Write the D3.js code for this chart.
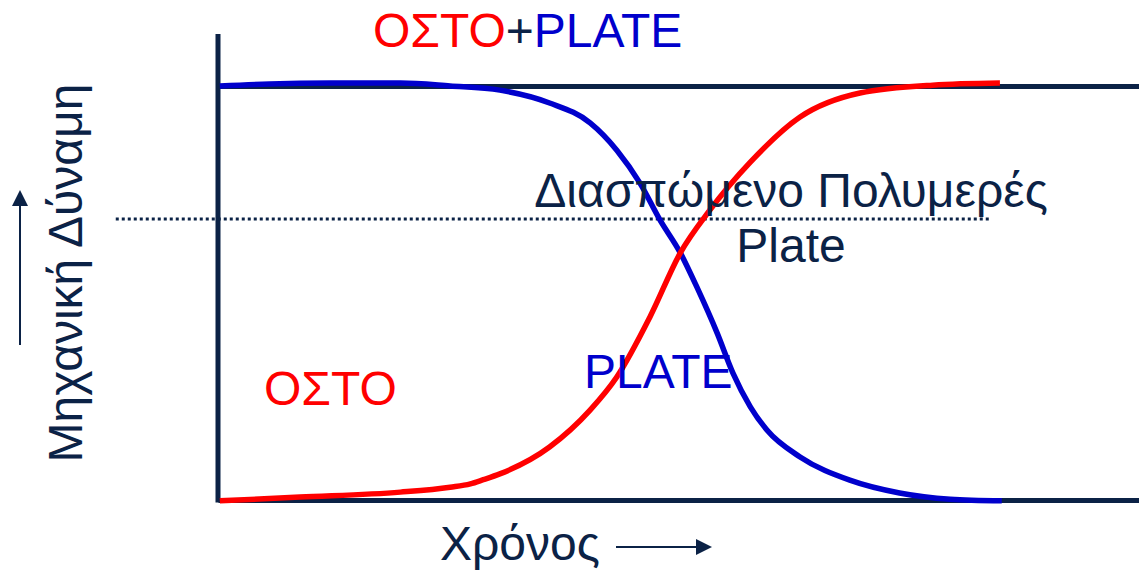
<!DOCTYPE html>
<html>
<head>
<meta charset="utf-8">
<script src="https://cdn.jsdelivr.net/npm/d3@7"></script>
<style>
  body { margin: 0; background: #fff; }
  text { font-family: "Liberation Sans", Arial, sans-serif; }
</style>
</head>
<body>
<div id="chart"></div>
<script>
// time (0-100) and mechanical strength (0-100)
var plateTime  = [0.2, 5.6, 12.2, 19.8, 25.2, 30.6, 36.0, 40.4, 43.3, 45.8, 48.0, 50.2, 52.0, 54.2, 55.9, 57.8, 59.6, 63.2, 68.6, 74.0, 79.5, 85.1];
var plateForce = [100, 100.5, 100.7, 100.7, 100, 99.0, 95.9, 91.1, 84.5, 76.6, 67.6, 59.7, 51.4, 40.3, 30.7, 22.5, 16.9, 10.4, 4.8, 1.7, 0.2, -0.2];

var boneTime  = [0.2, 8.9, 19.8, 25.2, 27.4, 28.8, 30.6, 36.0, 40.4, 43.3, 46.9, 50.2, 53.4, 57.8, 63.2, 69.7, 77.6, 84.9];
var boneForce = [-0.2, 0.7, 1.9, 3.1, 3.9, 4.9, 6.3, 12.8, 21.7, 29.7, 44.2, 59.7, 70.0, 81.6, 92.5, 98.3, 100.2, 100.7];

var polymerLevel = 67.9;          // dotted line
var polymerRange = [-11.1, 84.0];

var navy = "#0b2246", red = "#ff0000", blue = "#0000cc";

var width = 1139, height = 571;

var svg = d3.select("#chart").append("svg")
    .attr("width", width)
    .attr("height", height);

// Scales
var x = d3.scaleLinear().domain([0, 100]).range([218, 1139]);
var y = d3.scaleLinear().domain([0, 100]).range([500, 86]);

// Axes (frame)
var xAxis = d3.axisBottom(x).tickValues([]).tickSizeOuter(0);
var topAxis = d3.axisTop(x).tickValues([]).tickSizeOuter(0);

svg.append("g")
    .attr("transform", "translate(0," + y(0) + ")")
    .call(xAxis)
    .select(".domain").attr("stroke", navy).attr("stroke-width", 5);

svg.append("g")
    .attr("transform", "translate(0," + y(100) + ")")
    .call(topAxis)
    .select(".domain").attr("stroke", navy).attr("stroke-width", 5);

svg.append("line")
    .attr("x1", x(0)).attr("x2", x(0))
    .attr("y1", 34).attr("y2", y(0) + 2.5)
    .attr("stroke", navy).attr("stroke-width", 5);

// Dotted polymer line
svg.append("line")
    .attr("x1", x(polymerRange[0])).attr("x2", x(polymerRange[1]))
    .attr("y1", y(polymerLevel)).attr("y2", y(polymerLevel))
    .attr("stroke", navy).attr("stroke-width", 3)
    .attr("stroke-dasharray", "3,3");

// Curves
var line = d3.line()
    .x(function(d){ return x(d[0]); })
    .y(function(d){ return y(d[1]); })
    .curve(d3.curveMonotoneX);

svg.append("path")
    .datum(d3.zip(plateTime, plateForce))
    .attr("d", line)
    .attr("fill", "none")
    .attr("stroke", blue)
    .attr("stroke-width", 5.5);

svg.append("path")
    .datum(d3.zip(boneTime, boneForce))
    .attr("d", line)
    .attr("fill", "none")
    .attr("stroke", red)
    .attr("stroke-width", 5.5);

// Title
var title = svg.append("text")
    .attr("x", 373).attr("y", 47)
    .style("font-size", "48px");
title.append("tspan").attr("fill", red).text("ΟΣΤΟ");
title.append("tspan").attr("fill", navy).text("+");
title.append("tspan").attr("fill", blue).text("PLATE");

// Labels in plot
svg.append("text")
    .attr("x", 791).attr("y", 207)
    .attr("text-anchor", "middle")
    .attr("fill", navy)
    .style("font-size", "48px")
    .text("Διασπώμενο Πολυμερές");

svg.append("text")
    .attr("x", 791).attr("y", 262)
    .attr("text-anchor", "middle")
    .attr("fill", navy)
    .style("font-size", "48px")
    .text("Plate");

svg.append("text")
    .attr("x", 584).attr("y", 388)
    .attr("fill", blue)
    .style("font-size", "48px")
    .text("PLATE");

svg.append("text")
    .attr("x", 264).attr("y", 405)
    .attr("fill", red)
    .style("font-size", "48px")
    .text("ΟΣΤΟ");

// Axis titles
svg.append("text")
    .attr("transform", "translate(82,273) rotate(-90)")
    .attr("text-anchor", "middle")
    .attr("fill", navy)
    .style("font-size", "48px")
    .text("Μηχανική Δύναμη");

svg.append("text")
    .attr("x", 440).attr("y", 560)
    .attr("fill", navy)
    .style("font-size", "48px")
    .text("Χρόνος");

// Arrows
svg.append("line")
    .attr("x1", 20).attr("x2", 20)
    .attr("y1", 345).attr("y2", 204)
    .attr("stroke", navy).attr("stroke-width", 2);
svg.append("path")
    .attr("d", "M20,190 L12,206 L28,206 Z")
    .attr("fill", navy);

svg.append("line")
    .attr("x1", 616).attr("x2", 698)
    .attr("y1", 547).attr("y2", 547)
    .attr("stroke", navy).attr("stroke-width", 2);
svg.append("path")
    .attr("d", "M712,547 L696,539 L696,555 Z")
    .attr("fill", navy);
</script>
</body>
</html>
